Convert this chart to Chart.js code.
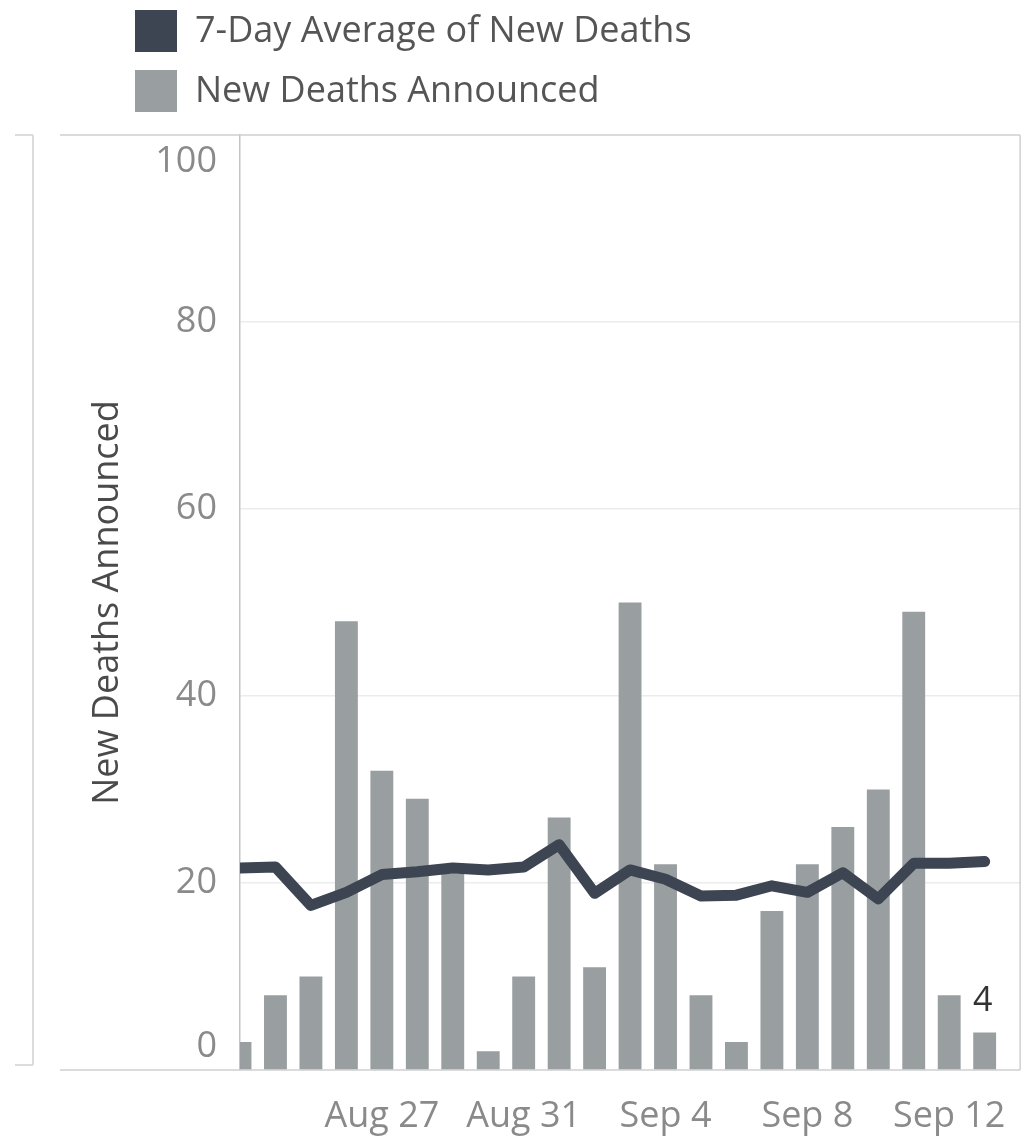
<!DOCTYPE html>
<html><head><meta charset="utf-8">
<script src="https://cdn.jsdelivr.net/npm/chart.js@4.4.1/dist/chart.umd.min.js"></script>
<style>
html,body{margin:0;padding:0;background:#fff;}
#wrap{position:relative;width:1031px;height:1138px;}
#legend{position:absolute;left:135px;top:10px;font-family:'Open Sans',sans-serif;font-size:36px;color:#555;}
.row{display:flex;align-items:center;height:42px;margin-bottom:18px;}
.sw{width:42px;height:42px;margin-right:18px;flex:none;}
.row span{position:relative;top:-2px;line-height:42px;white-space:nowrap;}
</style></head><body>
<div id="wrap"><canvas id="c" width="1031" height="1138"></canvas><div id="legend"></div></div>
<script>
const dates = ['Aug 23','Aug 24','Aug 25','Aug 26','Aug 27','Aug 28','Aug 29','Aug 30','Aug 31',
  'Sep 1','Sep 2','Sep 3','Sep 4','Sep 5','Sep 6','Sep 7','Sep 8','Sep 9','Sep 10','Sep 11','Sep 12','Sep 13'];
const newDeaths = [3,8,10,48,32,29,21,2,10,27,11,50,22,8,3,17,22,26,30,49,8,4];
const avgDeaths = [21.6,21.7,17.6,19.0,20.9,21.2,21.6,21.4,21.7,24.1,18.9,21.4,20.4,18.6,18.7,19.7,19.0,21.1,18.3,22.1,22.1,22.3];
const xTickLabels = ['Aug 27','Aug 31','Sep 4','Sep 8','Sep 12'];
const yTicks = [0,20,40,60,80,100];
const labelledDates = ['Sep 13'];

const FONT = 'Open Sans';

const decor = {
  id: 'decor',
  beforeDatasetsDraw(chart) {
    const {ctx, chartArea: a} = chart;
    const line = (x1, y1, x2, y2) => { ctx.beginPath(); ctx.moveTo(x1, y1); ctx.lineTo(x2, y2); ctx.stroke(); };
    ctx.save();
    ctx.strokeStyle = '#cfcfcf'; ctx.lineWidth = 1.5;
    line(60, a.top, a.right, a.top);
    line(60, a.bottom, a.right, a.bottom);
    line(a.right, a.top, a.right, a.bottom);
    ctx.strokeStyle = '#dcdcdc'; ctx.lineWidth = 2;
    line(33, a.top, 33, a.bottom - 5);
    line(15, a.top, 33, a.top);
    line(15, a.bottom - 5, 33, a.bottom - 5);
    ctx.restore();
  },
  afterDatasetsDraw(chart) {
    const {ctx, chartArea: a} = chart;
    const ys = chart.scales.y;
    ctx.save();
    ctx.font = '36px "' + FONT + '"';
    ctx.fillStyle = '#8a8a8a';
    ctx.textAlign = 'right';
    ctx.textBaseline = 'middle';
    ctx.fillText(String(yTicks[yTicks.length - 1]), a.left - 23, ys.getPixelForValue(yTicks[yTicks.length - 1]) + 27);
    ctx.fillText(String(yTicks[0]), a.left - 23, ys.getPixelForValue(yTicks[0]) - 23);
    const meta = chart.getDatasetMeta(1);
    ctx.font = '34px "' + FONT + '"';
    ctx.fillStyle = '#333';
    ctx.textAlign = 'center';
    ctx.textBaseline = 'alphabetic';
    labelledDates.forEach(d => {
      const i = dates.indexOf(d);
      const el = meta.data[i];
      ctx.fillText(String(newDeaths[i]), el.x - 2, el.y - 22);
    });
    ctx.restore();
  }
};

const chart = new Chart(document.getElementById('c'), {
  type: 'bar',
  data: {
    datasets: [
      { type: 'line', label: '7-Day Average of New Deaths',
        data: avgDeaths.map((v, i) => ({x: i, y: v})),
        borderColor: '#3d4452', backgroundColor: '#3f4655', borderWidth: 11,
        pointRadius: 0, tension: 0, borderCapStyle: 'round', borderJoinStyle: 'round', clip: 0, order: 0 },
      { type: 'bar', label: 'New Deaths Announced',
        data: newDeaths.map((v, i) => ({x: i, y: v})),
        backgroundColor: '#999ea0', barPercentage: 0.645, categoryPercentage: 1, clip: 0, order: 1 }
    ]
  },
  options: {
    responsive: false, animation: false, devicePixelRatio: 1,
    layout: {padding: {top: 135, right: 6, left: 0, bottom: 0}},
    plugins: {legend: {display: false}, tooltip: {enabled: false}},
    scales: {
      x: {
        type: 'linear', min: 0, max: dates.length, offset: false,
        afterBuildTicks: s => { s.ticks = xTickLabels.map(l => ({value: dates.indexOf(l)})); },
        ticks: {autoSkip: false, maxRotation: 0, padding: 25, color: '#8a8a8a',
          font: {family: FONT, size: 36}, callback: v => dates[v]},
        grid: {display: false, drawTicks: false},
        border: {display: false},
        afterFit: s => { s.height = 68; }
      },
      y: {
        min: 0, max: 100,
        afterBuildTicks: s => { s.ticks = yTicks.map(v => ({value: v})); },
        ticks: {padding: 23, color: '#8a8a8a', font: {family: FONT, size: 36},
          callback: v => (v === yTicks[0] || v === yTicks[yTicks.length - 1]) ? '' : String(v)},
        grid: {drawTicks: false, lineWidth: 1.5,
          color: c => (c.tick && c.tick.value > 0 && c.tick.value < 100) ? '#ececec' : 'rgba(0,0,0,0)'},
        border: {display: true, color: '#c4c4c4', width: 1.5},
        title: {display: true, text: 'New Deaths Announced', color: '#4a4a4a',
          font: {family: FONT, size: 36}, padding: {top: 86, bottom: 0}},
        afterFit: s => { s.width = 240; }
      }
    }
  },
  plugins: [decor]
});

const lg = document.getElementById('legend');
chart.data.datasets.forEach(ds => {
  const row = document.createElement('div'); row.className = 'row';
  const sw = document.createElement('div'); sw.className = 'sw';
  sw.style.background = ds.type === 'line' ? ds.borderColor : ds.backgroundColor;
  const t = document.createElement('span'); t.textContent = ds.label;
  row.appendChild(sw); row.appendChild(t); lg.appendChild(row);
});
</script>
</body></html>
